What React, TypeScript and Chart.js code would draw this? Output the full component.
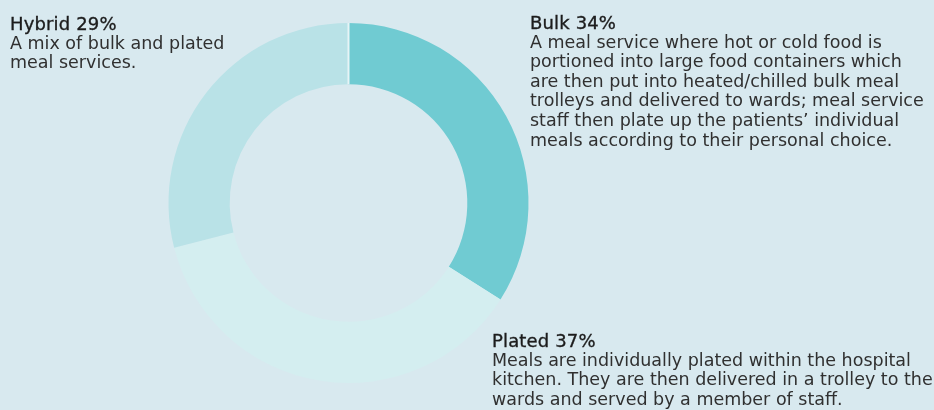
import React, { useEffect, useRef } from "react";
import { Chart, registerables } from "chart.js";

Chart.register(...registerables);

const categories = ["Bulk", "Plated", "Hybrid"];
const shares = [34, 37, 29];
const colours = ["#70cbd2", "#d4eef0", "#b9e2e7"];

const bulkLines = [
  "A meal service where hot or cold food is",
  "portioned into large food containers which",
  "are then put into heated/chilled bulk meal",
  "trolleys and delivered to wards; meal service",
  "staff then plate up the patients\u2019 individual",
  "meals according to their personal choice.",
];
const platedLines = [
  "Meals are individually plated within the hospital",
  "kitchen. They are then delivered in a trolley to the",
  "wards and served by a member of staff.",
];
const hybridLines = ["A mix of bulk and plated", "meal services."];

const BG = "#d8e9ef";

// thin light seam at the start of the first slice
const startSeam = {
  id: "startSeam",
  afterDatasetsDraw(chart: any) {
    const arc = chart.getDatasetMeta(0).data[0] as any;
    if (!arc) return;
    const { x, y, innerRadius, outerRadius, startAngle } = arc.getProps(
      ["x", "y", "innerRadius", "outerRadius", "startAngle"],
      true
    );
    const ctx = chart.ctx;
    ctx.save();
    ctx.strokeStyle = "#e6f4f6";
    ctx.lineWidth = 2;
    ctx.beginPath();
    ctx.moveTo(x + Math.cos(startAngle) * innerRadius, y + Math.sin(startAngle) * innerRadius);
    ctx.lineTo(x + Math.cos(startAngle) * outerRadius, y + Math.sin(startAngle) * outerRadius);
    ctx.stroke();
    ctx.restore();
  },
};

const font = "'DejaVu Sans', 'Liberation Sans', sans-serif";

function Block(props: { left: number; top: number; title: string; lines: string[] }) {
  return (
    <div
      style={{
        position: "absolute",
        left: props.left,
        top: props.top,
        fontFamily: font,
        fontSize: 17.5,
        lineHeight: "19.6px",
        color: "#303030",
        whiteSpace: "nowrap",
      }}
    >
      <div
        style={{
          fontSize: 18,
          letterSpacing: "0.15px",
          color: "#1c1c1c",
          WebkitTextStroke: "0.35px #1c1c1c",
        }}
      >
        {props.title}
      </div>
      {props.lines.map((l, i) => (
        <div key={i}>{l}</div>
      ))}
    </div>
  );
}

export default function App() {
  const ref = useRef<HTMLCanvasElement | null>(null);

  useEffect(() => {
    if (!ref.current) return;
    const chart = new Chart(ref.current, {
      type: "doughnut",
      data: {
        labels: categories,
        datasets: [
          {
            data: shares,
            backgroundColor: colours,
            borderWidth: 0,
          },
        ],
      },
      options: {
        responsive: false,
        animation: false,
        cutout: "66%",
        layout: { padding: { left: 168.5, right: 405.5, top: 23, bottom: 27 } },
        plugins: {
          legend: { display: false },
          tooltip: { enabled: false },
        },
      },
      plugins: [startSeam],
    });
    return () => chart.destroy();
  }, []);

  const pct = (i: number) => `${categories[i]} ${shares[i]}%`;

  return (
    <div
      style={{
        position: "absolute",
        left: 0,
        top: 0,
        width: 934,
        height: 410,
        background: BG,
        overflow: "hidden",
      }}
    >
      <canvas ref={ref} width={934} height={410} style={{ position: "absolute", left: 0, top: 0 }} />
      <Block left={10} top={14} title={pct(2)} lines={hybridLines} />
      <Block left={530} top={13} title={pct(0)} lines={bulkLines} />
      <Block left={492} top={331} title={pct(1)} lines={platedLines} />
    </div>
  );
}
